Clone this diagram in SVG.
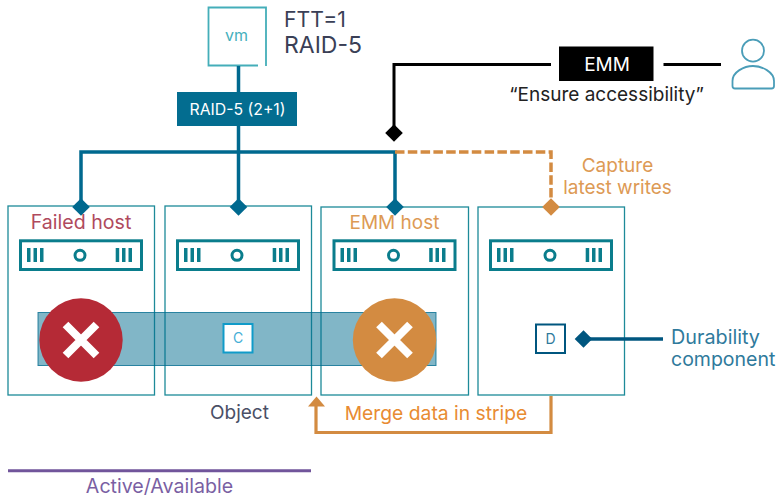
<svg xmlns="http://www.w3.org/2000/svg" width="778" height="496" viewBox="0 0 778 496">
<style>
text{font-family:"Inter","Noto Sans","Liberation Sans",sans-serif;font-size:19px}
.m{text-anchor:middle}
.host{fill:#fff;stroke:#1d8a99;stroke-width:1.3}
.srv{fill:none;stroke:#0a7d8c;stroke-width:3}
.bar{fill:#0a7d8c}
.hub{fill:none;stroke:#0a7d8c;stroke-width:3}
.bl{fill:none;stroke:#00698f;stroke-width:3.5}
.k{fill:none;stroke:#000;stroke-width:3}
.o{fill:none;stroke:#d38b41;stroke-width:3.2}
</style>
<defs>
<g id="server"><rect class="srv" x="-60.500" y="-15.200" width="121" height="28.700"/>
<rect class="bar" x="-54" y="-8" width="3.500" height="14"/><rect class="bar" x="-47.500" y="-8" width="3.500" height="14"/><rect class="bar" x="-41" y="-8" width="3.500" height="14"/>
<rect class="bar" x="34.700" y="-8" width="3.500" height="14"/><rect class="bar" x="41" y="-8" width="3.500" height="14"/><rect class="bar" x="47.500" y="-8" width="3.500" height="14"/>
<circle class="hub" cx="-1" cy="-0.700" r="5"/></g>
<path id="dia" d="M0-8.800 8.800 0 0 8.800-8.800 0Z"/>
</defs>
<g id="host-1"><rect class="host" x="8" y="206" width="146.500" height="189"/><use href="#server" x="81" y="256"/><text class="m" x="81" y="229" fill="#b04a5e" style="font-size:19.600px">Failed host</text></g>
<g id="host-2"><rect class="host" x="165" y="206" width="146.500" height="189"/><use href="#server" x="238" y="256"/></g>
<g id="host-3"><rect class="host" x="321" y="207" width="147.500" height="188"/><use href="#server" x="394.500" y="256"/><text class="m" x="394.500" y="229" fill="#dd9a55">EMM host</text></g>
<g id="host-4"><rect class="host" x="478" y="207" width="146.500" height="188"/><use href="#server" x="551" y="256"/></g>
<g id="object"><rect x="38" y="312.500" width="398" height="53" fill="#036d90" fill-opacity=".5" stroke="#036d90" stroke-opacity=".8"/>
<text class="m" x="239.500" y="419" fill="#4a4f66">Object</text></g>
<g id="failed-mark"><circle cx="81" cy="340" r="41.700" fill="#b52a36"/><path d="M65.500 324.500 96.500 355.500M96.500 324.500 65.500 355.500" stroke="#fff" stroke-width="8" fill="none"/></g>
<g id="emm-mark"><circle cx="394.500" cy="340" r="41.700" fill="#d38b41"/><path d="M379 324.500 410 355.500M410 324.500 379 355.500" stroke="#fff" stroke-width="8" fill="none"/></g>
<g id="comp-c"><rect x="223.500" y="324" width="29" height="28.500" fill="#fff" stroke="#109bc9" stroke-width="2"/><text class="m" x="238" y="343" fill="#45aed6" style="font-size:14px">C</text></g>
<g id="comp-d"><rect x="536" y="324.500" width="29" height="28.500" fill="#fff" stroke="#00567f" stroke-width="2"/><text class="m" x="550.500" y="343.500" fill="#2f7a9c" style="font-size:14px">D</text></g>
<g id="vm"><path d="M258 65.500H208.500V7.500H266V66" fill="#fff" stroke="#44aeb9" stroke-width="1.800"/><text class="m" x="236.500" y="41" fill="#45b0bd" style="font-size:16px">vm</text></g>
<text x="284" y="27" fill="#3a3f56" style="font-size:21.200px">FTT=1</text>
<text x="284" y="53" fill="#3a3f56" style="font-size:23px">RAID-5</text>
<g id="connectors">
<path class="bl" d="M238.500 66V92M238.500 126V206M81 206V152H395V206"/>
<path class="k" d="M551 64.500H394V133M663.500 64.500H721"/>
<path d="M395 152H551V200" fill="none" stroke="#d38b41" stroke-width="3.500" stroke-dasharray="9.500 3.300"/>
<path class="o" d="M551 396V432.500H316V405"/>
<path d="M308 406.500 316.500 396.500 325 406.500Z" fill="#d38b41"/>
<path d="M585 339H663" fill="none" stroke="#00567f" stroke-width="3.500"/>
<use href="#dia" x="81" y="207" fill="#00698f"/><use href="#dia" x="238.500" y="207" fill="#00698f"/><use href="#dia" x="395" y="207" fill="#00698f"/>
<use href="#dia" x="551" y="207" fill="#d38b41"/><use href="#dia" x="394" y="133" fill="#000"/><use href="#dia" x="583.500" y="339" fill="#00567f"/>
</g>
<g id="raid"><rect x="177" y="92" width="120" height="34" fill="#036d90"/><text class="m" x="237.500" y="115" fill="#fff" style="font-size:15.800px">RAID-5 (2+1)</text></g>
<g id="emm"><rect x="559" y="46.500" width="94.500" height="34.500" fill="#000"/><text class="m" x="607" y="70.500" fill="#fff">EMM</text>
<text class="m" x="606.500" y="101" fill="#222">“Ensure accessibility”</text></g>
<g id="user" fill="none" stroke="#4a9db8" stroke-width="1.800"><circle cx="753" cy="50.700" r="11"/><path d="M732.500 81C732.500 72 744 66 753 66S774 72 774 81V86Q774 88.500 771.500 88.500H735Q732.500 88.500 732.500 86Z"/></g>
<text class="m" x="617.500" y="172" fill="#dd9a55">Capture</text>
<text class="m" x="617.500" y="194" fill="#dd9a55">latest writes</text>
<text class="m" x="436" y="420" fill="#e88b32" style="font-size:19.300px">Merge data in stripe</text>
<text x="671" y="344" fill="#2f7a9c" style="font-size:19.800px">Durability</text>
<text x="671" y="366" fill="#2f7a9c" style="font-size:19.500px">component</text>
<path d="M8 470.700H311" stroke="#71559b" stroke-width="3"/>
<text class="m" x="159.500" y="492.500" fill="#7a5fa3" style="font-size:19.600px">Active/Available</text>
</svg>
